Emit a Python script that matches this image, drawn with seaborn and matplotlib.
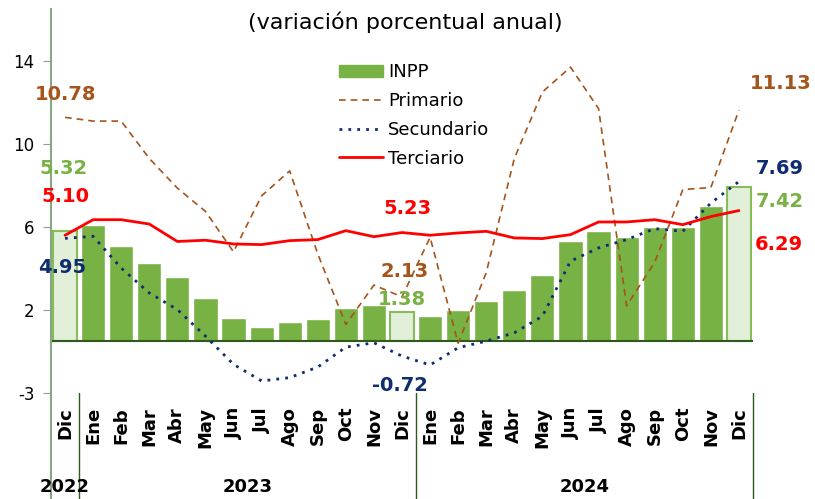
import numpy as np
import pandas as pd
import matplotlib
matplotlib.use("Agg")
import matplotlib.pyplot as plt
import seaborn as sns
from matplotlib.patches import Patch
from matplotlib.lines import Line2D

# %%
meses = ["Dic", "Ene", "Feb", "Mar", "Abr", "May", "Jun", "Jul", "Ago", "Sep", "Oct", "Nov", "Dic",
         "Ene", "Feb", "Mar", "Abr", "May", "Jun", "Jul", "Ago", "Sep", "Oct", "Nov", "Dic"]
anios = ["2022", "2023", "2024"]
inpp = [5.32, 5.60, 4.60, 3.77, 3.08, 2.07, 1.12, 0.70, 0.90, 1.07, 1.59, 1.75, 1.38,
        1.22, 1.49, 1.92, 2.44, 3.20, 4.80, 5.32, 5.00, 5.48, 5.51, 6.50, 7.42]
primario = [10.78, 10.60, 10.60, 8.80, 7.37, 6.25, 4.30, 7.00, 8.20, 4.20, 0.80, 2.70, 2.13,
            5.00, -0.10, 3.30, 8.80, 12.00, 13.20, 11.20, 1.70, 3.80, 7.30, 7.40, 11.13]
secundario = [4.95, 5.05, 3.52, 2.32, 1.52, 0.24, -1.12, -1.92, -1.76, -1.25, -0.29, -0.08, -0.72,
              -1.15, -0.32, 0.00, 0.40, 1.20, 3.85, 4.49, 4.89, 5.42, 5.29, 6.65, 7.69]
terciario = [5.10, 5.85, 5.85, 5.64, 4.80, 4.86, 4.68, 4.65, 4.84, 4.89, 5.32, 5.03, 5.23,
             5.10, 5.21, 5.29, 4.97, 4.94, 5.13, 5.74, 5.74, 5.85, 5.61, 6.00, 6.29]
destacados = [0, 12, 24]

verde = "#78B144"
verde_claro = "#E2EFD9"
cafe = "#A5541A"
azul = "#0E2C6E"
rojo = "#FF0000"
verde_osc = "#2F5A1E"

df = pd.DataFrame({"pos": np.arange(len(meses)), "inpp": inpp,
                   "primario": primario, "secundario": secundario, "terciario": terciario})

# %%
sns.set_style("white")
plt.rcParams["font.family"] = ["DejaVu Sans"]
plt.rcParams["text.color"] = "black"
plt.rcParams["xtick.color"] = "black"
plt.rcParams["ytick.color"] = "black"

fig = plt.figure(figsize=(8.15, 4.99), dpi=100)
ax = fig.add_axes([51 / 815, 106 / 499, 702 / 815, 384 / 499])

sns.barplot(data=df, x="pos", y="inpp", native_scale=True, color=verde, saturation=1,
            width=0.86, ax=ax, edgecolor="white", linewidth=1)
for i, p in enumerate(ax.patches):
    if i in destacados:
        p.set_facecolor(verde_claro)
        p.set_edgecolor("#86BC5A")
        p.set_linewidth(1.5)

sns.lineplot(data=df, x="pos", y="primario", ax=ax, color=cafe, linestyle=(0, (4, 3)), lw=1.2)
sns.lineplot(data=df, x="pos", y="secundario", ax=ax, color=azul, linestyle=(0, (1, 2.2)), lw=2)
sns.lineplot(data=df, x="pos", y="terciario", ax=ax, color=rojo, lw=2)

ax.axhline(0, color=verde_osc, lw=1.5, zorder=1.5)

ax.set_xlim(-0.5, 24.5)
ax.set_ylim(-2.5, 16)
ax.set_yticks([-2.5, 1.5, 5.5, 9.5, 13.5])
ax.set_yticklabels(["-3", "2", "6", "10", "14"], fontsize=12)
ax.set_xticks(np.arange(len(meses)))
ax.set_xticklabels(meses, rotation=90, fontsize=13, fontweight="bold")
ax.tick_params(axis="x", length=0, pad=10)
ax.tick_params(axis="y", left=True, length=6, color="#8AA586", pad=6)
ax.set_xlabel("")
ax.set_ylabel("")
for s in ["top", "right", "bottom"]:
    ax.spines[s].set_visible(False)
ax.spines["left"].set_color("#8AA586")
ax.spines["left"].set_linewidth(1.5)

# separadores de años bajo el eje
tr = ax.get_xaxis_transform()
ax.plot([-0.5, -0.5], [0, -0.28], transform=tr, color="#8AA586", lw=1.5, clip_on=False)
for xs in [0.5, 12.5, 24.5]:
    ax.plot([xs, xs], [0, -0.28], transform=tr, color=verde_osc, lw=1, clip_on=False)
for x, a in zip([0, 6.5, 18.5], anios):
    ax.text(x, -0.245, a, transform=tr, ha="center", va="center", fontsize=13, fontweight="bold")

# etiquetas de datos
etiquetas = [
    (0.03, 11.9, "10.78", cafe), (-0.04, 8.3, "5.32", verde), (0.03, 6.97, "5.10", rojo),
    (-0.1, 3.56, "4.95", azul), (12.2, 6.4, "5.23", rojo), (12.1, 3.37, "2.13", cafe),
    (12.0, 2.0, "1.38", verde), (11.93, -2.16, "-0.72", azul), (25.5, 12.4, "11.13", cafe),
    (25.46, 8.3, "7.69", azul), (25.46, 6.73, "7.42", verde), (25.43, 4.66, "6.29", rojo),
]
for x, y, t, c in etiquetas:
    ax.text(x, y, t, color=c, fontsize=14, fontweight="bold", ha="center", va="center",
            clip_on=False, zorder=5)

fig.text(405 / 815, 1 - 22 / 499, "(variación porcentual anual)", ha="center", va="center", fontsize=16)

handles = [Patch(facecolor=verde, edgecolor=verde),
           Line2D([], [], color=cafe, linestyle=(0, (4, 3)), lw=1.2),
           Line2D([], [], color=azul, linestyle=(0, (1, 2.2)), lw=2),
           Line2D([], [], color=rojo, lw=2)]
ax.legend(handles, ["INPP", "Primario", "Secundario", "Terciario"], loc="upper left",
          bbox_to_anchor=(332 / 815, 1 - 56 / 499), bbox_transform=fig.transFigure,
          frameon=False, fontsize=13, handlelength=2.4, handletextpad=0.3, labelspacing=0.6,
          borderaxespad=0)

fig.savefig("out.png", dpi=100)
